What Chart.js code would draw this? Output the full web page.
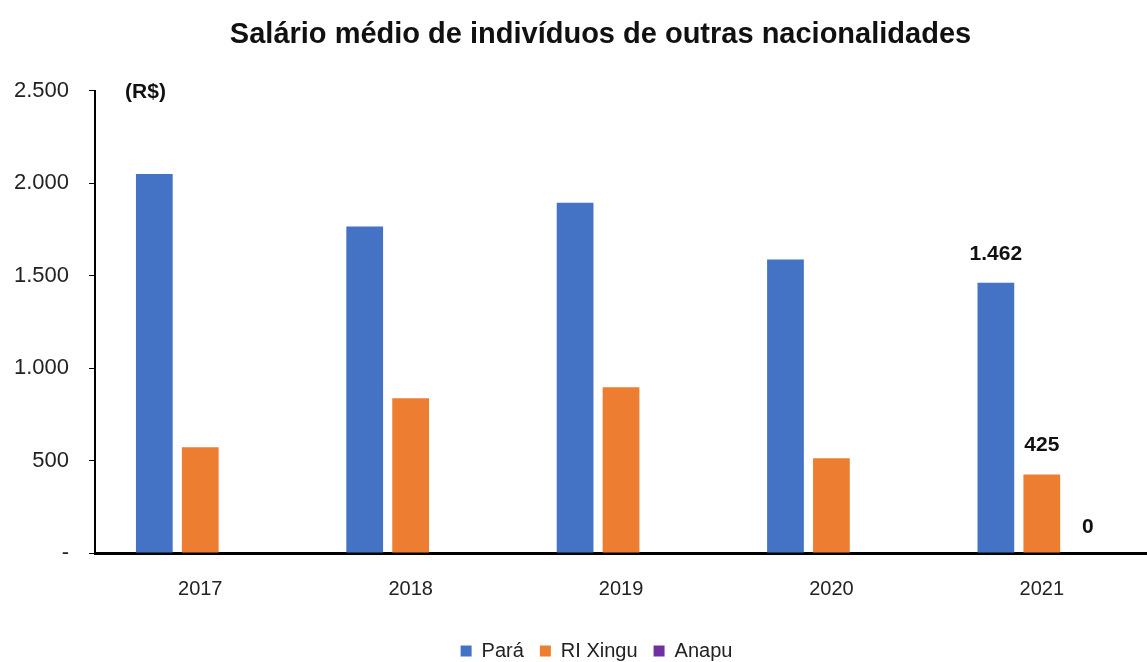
<!DOCTYPE html>
<html>
<head>
<meta charset="utf-8">
<script src="https://cdn.jsdelivr.net/npm/chart.js@4"></script>
<style>
  body { margin: 0; background: #fff; }
  #wrap { width: 1147px; height: 662px; }
</style>
</head>
<body>
<div id="wrap"><canvas id="salario-chart"></canvas></div>
<script>
// values (R$)
const years = ['2017', '2018', '2019', '2020', '2021']
const para = [2050, 1766, 1895, 1588, 1462]
const riXingu = [572, 837, 896, 513, 425]
const anapu = [0, 0, 0, 0, 0]
const yTicks = [0, 500, 1000, 1500, 2000, 2500]

// only the last year gets a value label in the original
const labelIndex = 4

function fmt(v){
    // brazilian thousands separator
    let s = String(Math.round(v))
    return s.replace(/\B(?=(\d{3})+(?!\d))/g, '.')
}

const valueLabels = {
    id: 'valueLabels',
    afterDatasetsDraw(chart){
        let ctx = chart.ctx
        ctx.save()
        ctx.font = 'bold 21px "Liberation Sans", Arial, sans-serif'
        ctx.fillStyle = '#111'
        ctx.textAlign = 'center'
        ctx.textBaseline = 'middle'
        chart.data.datasets.forEach(function(ds, i){
            let bar = chart.getDatasetMeta(i).data[labelIndex]
            let v = ds.data[labelIndex]
            let y = bar.y - 29
            if (v == 0){
                y = bar.y - 26
            }
            ctx.fillText(fmt(v), bar.x, y)
        })
        ctx.restore()
    }
}

const unitLabel = {
    id: 'unitLabel',
    afterDraw(chart){
        let ctx = chart.ctx
        let area = chart.chartArea
        ctx.save()
        ctx.font = 'bold 21px "Liberation Sans", Arial, sans-serif'
        ctx.fillStyle = '#111'
        ctx.textAlign = 'left'
        ctx.textBaseline = 'middle'
        ctx.fillText('(R$)', area.left + 30, area.top + 1)
        ctx.restore()
    }
}

// the original's title and legend sit a bit right of the page centre
const nudgeBoxes = {
    id: 'nudgeBoxes',
    afterLayout(chart){
        if (chart.titleBlock){
            chart.titleBlock.left += 30
            chart.titleBlock.right += 30
        }
        if (chart.legend){
            chart.legend.left += 26
            chart.legend.right += 26
        }
    }
}

let ctx = document.getElementById('salario-chart').getContext('2d')
new Chart(ctx, {
    type: 'bar',
    data: {
        labels: years,
        datasets: [
            { label: 'Pará', data: para, backgroundColor: '#4472C4' },
            { label: 'RI Xingu', data: riXingu, backgroundColor: '#ED7D31' },
            { label: 'Anapu', data: anapu, backgroundColor: '#7030A0' }
        ]
    },
    options: {
        responsive: true,
        maintainAspectRatio: false,
        animation: false,
        categoryPercentage: 0.655,
        barPercentage: 0.8,
        layout: { padding: { left: -6, right: 0, top: 4, bottom: -9 } },
        plugins: {
            title: {
                display: true,
                text: 'Salário médio de indivíduos de outras nacionalidades',
                color: '#111',
                font: { family: '"Liberation Sans", Arial, sans-serif', size: 29, weight: 'bold' },
                padding: { top: 14, bottom: 38 }
            },
            legend: {
                position: 'bottom',
                labels: {
                    color: '#222',
                    font: { family: '"Liberation Sans", Arial, sans-serif', size: 20, lineHeight: 1 },
                    boxWidth: 11,
                    boxHeight: 11,
                    padding: 16
                }
            },
            tooltip: { enabled: false }
        },
        scales: {
            x: {
                grid: { display: false, drawTicks: false },
                border: { color: '#000', width: 3 },
                ticks: {
                    color: '#222',
                    padding: 24,
                    font: { family: '"Liberation Sans", Arial, sans-serif', size: 20 }
                }
            },
            y: {
                min: 0,
                max: 2500,
                afterBuildTicks(axis){
                    axis.ticks = yTicks.map(function(v){ return { value: v } })
                },
                grid: { drawOnChartArea: false, drawTicks: true, tickLength: 6, color: '#000' },
                border: { color: '#000', width: 2 },
                ticks: {
                    color: '#222',
                    padding: 20,
                    font: { family: '"Liberation Sans", Arial, sans-serif', size: 22 },
                    callback: function(v){ return v == 0 ? '-' : fmt(v) }
                }
            }
        }
    },
    plugins: [valueLabels, unitLabel, nudgeBoxes]
})
</script>
</body>
</html>
